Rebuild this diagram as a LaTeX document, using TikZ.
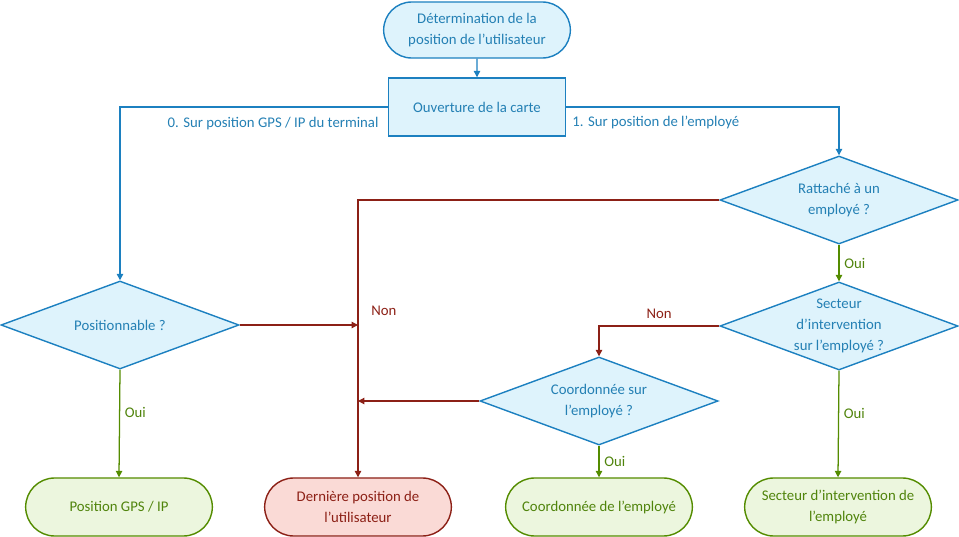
\documentclass[tikz,border=0pt]{standalone}
\usepackage{fontspec}
\setmainfont{Carlito}
\usepackage{tikz}
\usetikzlibrary{arrows.meta,shapes.geometric,shapes.misc}

\definecolor{bline}{RGB}{28,128,192}
\definecolor{bfill}{RGB}{222,243,252}
\definecolor{btext}{RGB}{36,128,180}
\definecolor{rline}{RGB}{140,32,22}
\definecolor{rfill}{RGB}{250,218,214}
\definecolor{gline}{RGB}{84,140,0}
\definecolor{gfill}{RGB}{236,246,222}
\definecolor{gtext}{RGB}{80,132,12}

\begin{document}
\begin{tikzpicture}[x=0.025cm, y=-0.025cm, font=\fontsize{10.5}{15}\selectfont,
	terminal/.style={rounded rectangle, draw=bline, line width=1pt, fill=bfill, text=btext, align=center, minimum width=4.9cm, minimum height=1.4cm},
	process/.style={rectangle, draw=bline, line width=1pt, fill=bfill, text=btext, align=center, minimum width=4.425cm, minimum height=1.45cm},
	decision/.style={diamond, draw=bline, line width=1pt, fill=bfill, inner sep=0pt, minimum width=5.95cm, minimum height=2.2cm},
	dtext/.style={text=btext, align=center},
	redend/.style={rounded rectangle, draw=rline, line width=1pt, fill=rfill, text=rline, align=center, minimum width=4.9cm, minimum height=1.45cm},
	greenend/.style={rounded rectangle, draw=gline, line width=1pt, fill=gfill, text=gtext, align=center, minimum width=4.9cm, minimum height=1.45cm},
	blink/.style={draw=bline, line width=0.9pt, -{Triangle[length=1.6mm,width=1.6mm]}},
	rlink/.style={draw=rline, line width=0.9pt, -{Triangle[length=1.6mm,width=1.6mm]}},
	glink/.style={draw=gline, line width=0.9pt, -{Triangle[length=1.6mm,width=1.6mm]}}]
	\useasboundingbox (0,0) rectangle (959,537);
	% top of the chart
	\node[terminal] (start) at (477,30) {Détermination de la\\position de l’utilisateur};
	\node[process] (carte) at (477,107) {Ouverture de la carte};
	% decisions
	\node[decision, label={[dtext]center:Positionnable ?}] (posit) at (120,325) {};
	\node[decision, label={[dtext]center:Rattaché à un\\employé ?}] (ratt) at (839,200) {};
	\node[decision, label={[dtext]center:Secteur\\d’intervention\\sur l’employé ?}] (sect) at (839,326) {};
	\node[decision, label={[dtext]center:Coordonnée sur\\l’employé ?}] (coord) at (599,401) {};
	% results
	\node[greenend] (gps) at (119,507) {Position GPS / IP};
	\node[redend] (last) at (358,507) {Dernière position de\\l’utilisateur};
	\node[greenend] (emp) at (599,507) {Coordonnée de l’employé};
	\node[greenend] (zone) at (838,507) {Secteur d’intervention de\\l’employé};
	\coordinate (j1) at (last.north |- posit.east);
	\coordinate (j2) at (last.north |- coord.west);
	% links
	\draw[blink] (start) -- (carte);
	\draw[blink] (carte.west) -| (posit.north) node[pos=0, anchor=north east, xshift=-0.1cm, yshift=-0.12cm, text=btext] {0. Sur position GPS / IP du terminal};
	\draw[blink] (carte.east) -| (ratt.north) node[pos=0, anchor=north west, xshift=0.02cm, yshift=-0.1cm, text=btext] {1. Sur position de l’employé};
	\draw[rlink] (ratt.west) -| (last.north) node[pos=0.7, right, xshift=0.2cm, text=rline] {Non};
	\draw[rlink] (posit.east) -- (j1);
	\draw[rlink] (coord.west) -- (j2);
	\draw[rlink] (sect.west) -| (coord.north) node[pos=0.25, above, yshift=0.05cm, text=rline] {Non};
	\draw[glink] (ratt.south) -- (sect.north) node[midway, right, text=gtext] {Oui};
	\draw[glink] (posit.south) -- (gps.north) node[pos=0.4, right, text=gtext] {Oui};
	\draw[glink] (sect.south) -- (zone.north) node[pos=0.4, right, text=gtext] {Oui};
	\draw[glink] (coord.south) -- (emp.north) node[midway, right, text=gtext] {Oui};
\end{tikzpicture}
\end{document}
